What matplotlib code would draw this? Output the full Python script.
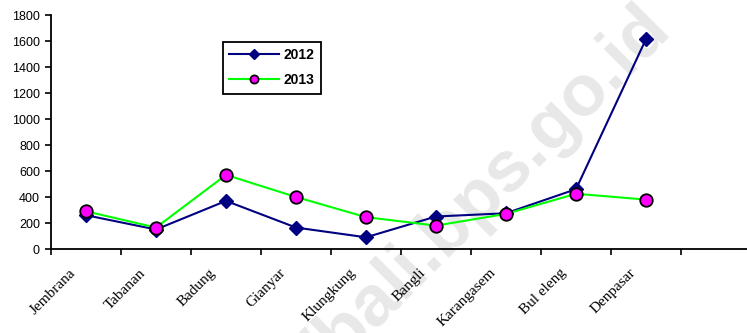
import matplotlib
matplotlib.use("Agg")
import matplotlib.pyplot as plt
import numpy as np

regencies = ["Jembrana", "Tabanan", "Badung", "Gianyar", "Klungkung",
             "Bangli", "Karangasem", "Bul eleng", "Denpasar"]
values_2012 = [260, 150, 370, 165, 90, 250, 275, 460, 1615]
values_2013 = [290, 165, 570, 400, 245, 180, 270, 425, 380]
y_ticks = [0, 200, 400, 600, 800, 1000, 1200, 1400, 1600, 1800]
n_slots = 10  # one empty slot after Denpasar

fig = plt.figure(figsize=(7.47, 3.33), dpi=100)
ax = fig.add_axes([51 / 747, 84 / 333, 700 / 747, 234 / 333])

x = np.arange(len(regencies)) + 0.5
ax.plot(x, values_2012, color="#000080", lw=1.5, marker="D", ms=7.5,
        mfc="#000080", mec="#000080", label="2012", zorder=3)
ax.plot(x, values_2013, color="#00ff00", lw=1.5, marker="o", ms=9,
        mfc="#ff00ff", mec="black", mew=1.3, label="2013", zorder=4)

ax.set_xlim(0, n_slots)
ax.set_ylim(0, 1800)
ax.set_yticks(y_ticks)
ax.set_yticklabels([str(v) for v in y_ticks], family="Liberation Sans", fontsize=9)
ax.set_xticks(np.arange(n_slots + 1))
ax.set_xticklabels([])
ax.tick_params(axis="both", direction="out", length=4, width=1.2, color="black")
ax.tick_params(axis="y", pad=4)
for lbl, xi in zip(regencies, x):
    ax.text(xi - 0.24, -133, lbl, rotation=45, ha="right", va="top",
            family="Liberation Serif", fontsize=11, rotation_mode="anchor",
            zorder=3)

for side in ("top", "right"):
    ax.spines[side].set_visible(False)
for side in ("left", "bottom"):
    ax.spines[side].set_linewidth(1.3)

leg = ax.legend(loc="upper left", bbox_to_anchor=(0.2457, 0.885), borderaxespad=0,
                prop={"family": "Liberation Sans", "weight": "bold", "size": 10},
                fancybox=False, edgecolor="black", handlelength=3.6,
                handletextpad=0.3, borderpad=0.45, labelspacing=0.8,
                markerscale=0.65, framealpha=1)
leg.get_frame().set_linewidth(1.3)

# faint site watermark
ax.text(672 / 747, 1 - 30 / 333, "http://bali.bps.go.id", transform=fig.transFigure,
        rotation=45, ha="right", va="baseline", rotation_mode="anchor",
        family="Liberation Sans", weight="bold", fontsize=52, color="#e8e8e8",
        zorder=0.5, clip_on=False)

fig.savefig("out.png", dpi=100)
